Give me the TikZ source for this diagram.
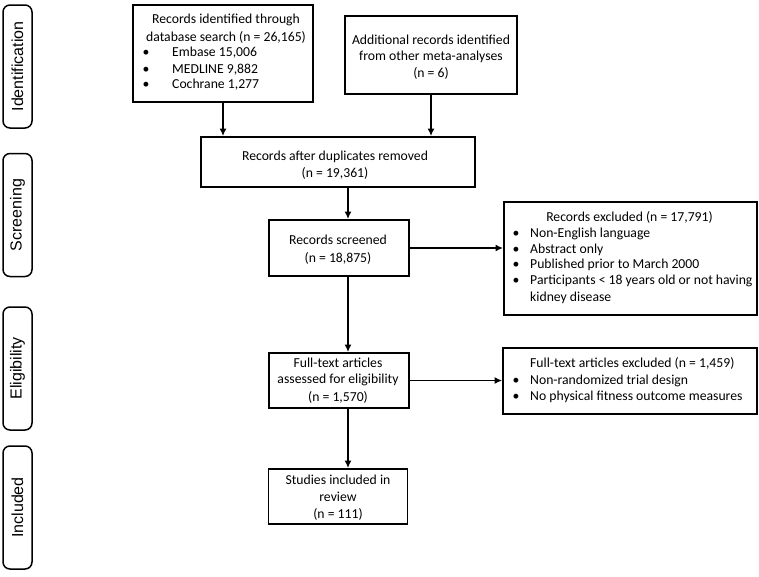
\documentclass[tikz,border=0pt]{standalone}
\usepackage{fontspec}
\setmainfont{Carlito}
\newfontfamily\sidefont{Liberation Sans}
\usetikzlibrary{arrows.meta}
\tikzset{
  box/.style={draw, line width=1.8pt, inner sep=0pt},
  side/.style={draw, line width=1.5pt, rounded corners=7pt, inner sep=0pt, minimum width=123pt, minimum height=29pt, font=\sidefont\fontsize{16}{18}\selectfont},
  txt/.style={inner sep=0pt, font=\fontsize{13.7}{16}\selectfont, text height=9.5pt, text depth=3pt},
  arr/.style={line width=1.8pt, -{Latex[length=7.5pt,width=7pt]}}
}
\begin{document}
\begin{tikzpicture}[x=1pt,y=-1pt]
\useasboundingbox (0,0) rectangle (759,576);
% side labels
\node[side, rotate=90] (sid) at (17.5,66.5) {Identification};
\node[side, rotate=90] (sscr) at (17.5,215) {Screening};
\node[side, rotate=90] (selig) at (17.5,368.5) {Eligibility};
\node[side, rotate=90] (sinc) at (17.5,507.5) {Included};
% boxes
\node[box, minimum width=180pt, minimum height=97pt] (b1) at (223,53.5) {};
\node[box, minimum width=172pt, minimum height=78pt] (b2) at (431,55) {};
\node[box, minimum width=274pt, minimum height=50pt] (b3) at (338,162) {};
\node[box, minimum width=140pt, minimum height=56pt] (b4) at (339,248) {};
\node[box, minimum width=253pt, minimum height=113pt] (b5) at (630.5,258.5) {};
\node[box, minimum width=140pt, minimum height=55pt] (b6) at (339,380.5) {};
\node[box, minimum width=254pt, minimum height=66pt] (b7) at (630,381) {};
\node[box, minimum width=139pt, minimum height=55pt] (b8) at (338,496.5) {};
% box 1 text
\node[txt] (t1a) at (226,20) {Records identified through};
\node[txt] (t1b) at (226,38) {database search (n = 26,165)};
\node[txt] (t1c) at (146,53) {•};
\node[txt, anchor=west] (t1d) at (172,53) {Embase 15,006};
\node[txt] (t1e) at (146,70) {•};
\node[txt, anchor=west] (t1f) at (172,70) {MEDLINE 9,882};
\node[txt] (t1g) at (146,85) {•};
\node[txt, anchor=west] (t1h) at (172,85) {Cochrane 1,277};
% box 2 text
\node[txt] (t2a) at (431,41) {Additional records identified};
\node[txt] (t2b) at (431,57) {from other meta-analyses};
\node[txt] (t2c) at (431,74) {(n = 6)};
% box 3 text
\node[txt] (t3a) at (335,157) {Records after duplicates removed};
\node[txt] (t3b) at (335,174) {(n = 19,361)};
% box 4 text
\node[txt] (t4a) at (338,241) {Records screened};
\node[txt] (t4b) at (338,259) {(n = 18,875)};
% box 5 text
\node[txt] (t5a) at (629.5,218) {Records excluded (n = 17,791)};
\node[txt] (t5b) at (516,234) {•};
\node[txt, anchor=west] (t5c) at (530,234) {Non-English language};
\node[txt] (t5d) at (516,250) {•};
\node[txt, anchor=west] (t5e) at (530,250) {Abstract only};
\node[txt] (t5f) at (516,265) {•};
\node[txt, anchor=west] (t5g) at (530,265) {Published prior to March 2000};
\node[txt] (t5h) at (516,281) {•};
\node[txt, anchor=west] (t5i) at (530,281) {Participants < 18 years old or not having};
\node[txt, anchor=west] (t5j) at (530,298) {kidney disease};
% box 6 text
\node[txt] (t6a) at (338,364) {Full-text articles};
\node[txt] (t6b) at (338,380) {assessed for eligibility};
\node[txt] (t6c) at (338,398) {(n = 1,570)};
% box 7 text
\node[txt, anchor=west] (t7a) at (530,364) {Full-text articles excluded (n = 1,459)};
\node[txt] (t7b) at (516,381) {•};
\node[txt, anchor=west] (t7c) at (530,381) {Non-randomized trial design};
\node[txt] (t7d) at (516,397) {•};
\node[txt, anchor=west] (t7e) at (530,397) {No physical fitness outcome measures};
% box 8 text
\node[txt] (t8a) at (338,481) {Studies included in};
\node[txt] (t8b) at (338,498) {review};
\node[txt] (t8c) at (338,515) {(n = 111)};
% connectors
\coordinate (c34) at (348,0);
\draw[arr] (b1.south) -- (b1.south |- b3.north);
\draw[arr] (b2.south) -- (b2.south |- b3.north);
\draw[arr] (c34 |- b3.south) -- (c34 |- b4.north);
\draw[arr] (b4.east) -- (b4.east -| b5.west);
\draw[arr] (c34 |- b4.south) -- (c34 |- b6.north);
\draw[arr] (b6.east) -- (b6.east -| b7.west);
\draw[arr] (c34 |- b6.south) -- (c34 |- b8.north);
\end{tikzpicture}
\end{document}
